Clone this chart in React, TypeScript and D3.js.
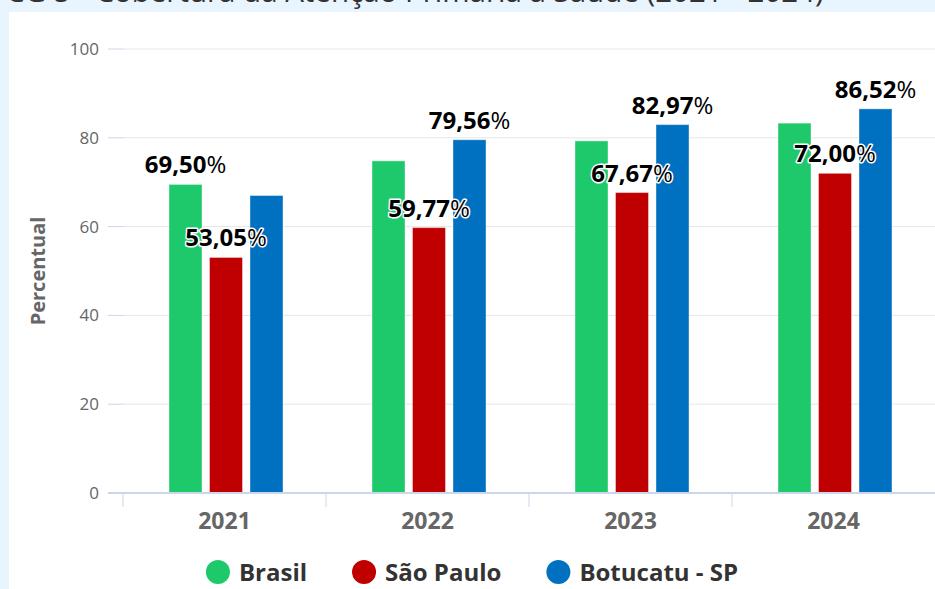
import React, { useEffect, useRef } from "react";
import * as d3 from "d3";

const years = ["2021", "2022", "2023", "2024"];
const seriesNames = ["Brasil", "São Paulo", "Botucatu - SP"];
const seriesColors = ["#1ec96b", "#c00000", "#0070c0"];
const brasil = [69.5, 74.8, 79.3, 83.3];
const saoPaulo = [53.05, 59.77, 67.67, 72.0];
const botucatu = [67.0, 79.56, 82.97, 86.52];
// only these labels survive in the original (the rest were hidden as overlapping)
const brasilLabels = [true, false, false, false];
const saoPauloLabels = [true, true, true, true];
const botucatuLabels = [false, true, true, true];
const yTicks = [0, 20, 40, 60, 80, 100];
const title = "CG 5 - Cobertura da Atenção Primária à Saúde (2021 - 2024)";

const W = 935;
const H = 589;
const FONT = "'Open Sans', 'DejaVu Sans', sans-serif";

const ptBR = d3.formatLocale({
  decimal: ",",
  thousands: ".",
  grouping: [3],
  currency: ["R$", ""],
});
const fmt = ptBR.format(".2f");

const App = () => {
  const ref = useRef<SVGSVGElement | null>(null);

  useEffect(() => {
    if (!ref.current) return;
    const svg = d3.select(ref.current);
    svg.selectAll("*").remove();

    const series = [
      { name: seriesNames[0], color: seriesColors[0], values: brasil, labels: brasilLabels },
      { name: seriesNames[1], color: seriesColors[1], values: saoPaulo, labels: saoPauloLabels },
      { name: seriesNames[2], color: seriesColors[2], values: botucatu, labels: botucatuLabels },
    ];

    const x = d3.scaleBand().domain(years).range([123, 935]).paddingInner(0).paddingOuter(0);
    const xs = d3.scaleBand().domain(seriesNames).range([46, 160]).paddingInner(0.185).paddingOuter(0);
    const y = d3.scaleLinear().domain([0, 100]).range([493, 49]);

    // background + panel (title sits above, mostly scrolled out of view)
    svg.append("rect").attr("width", W).attr("height", H).attr("fill", "#e8f4fe");
    svg.append("text")
      .attr("x", 6).attr("y", 2)
      .attr("font-family", FONT).attr("font-size", 29.5).attr("fill", "#333")
      .text(title);
    svg.append("rect").attr("x", 9).attr("y", 12).attr("width", W - 9).attr("height", H - 12).attr("fill", "#fff");

    // grid + y ticks
    const yg = svg.append("g");
    yTicks.forEach((t) => {
      if (t > 0) {
        yg.append("line")
          .attr("x1", 124).attr("x2", W).attr("y1", y(t)).attr("y2", y(t))
          .attr("stroke", "#e6e6e6").attr("stroke-width", 1);
      }
      yg.append("line")
        .attr("x1", 108).attr("x2", 124).attr("y1", y(t)).attr("y2", y(t))
        .attr("stroke", "#ccd6eb").attr("stroke-width", 1);
      yg.append("text")
        .attr("x", 99).attr("y", y(t) + 6)
        .attr("text-anchor", "end")
        .attr("font-family", FONT).attr("font-size", 17).attr("fill", "#666")
        .text(t);
    });

    svg.append("text")
      .attr("transform", "translate(45,271) rotate(-90)")
      .attr("text-anchor", "middle")
      .attr("font-family", FONT).attr("font-size", 20).attr("font-weight", 700).attr("fill", "#666")
      .text("Percentual");

    // bars
    series.forEach((s) => {
      svg.append("g").selectAll("rect")
        .data(s.values)
        .enter()
        .append("rect")
        .attr("x", (d, i) => (x(years[i]) as number) + (xs(s.name) as number))
        .attr("y", (d) => y(d))
        .attr("width", xs.bandwidth())
        .attr("height", (d) => y(0) - y(d))
        .attr("fill", s.color)
        .attr("stroke", "#fff").attr("stroke-opacity", 0.4).attr("stroke-width", 1);
    });

    // x axis
    svg.append("line")
      .attr("x1", 108).attr("x2", W).attr("y1", y(0)).attr("y2", y(0))
      .attr("stroke", "#ccd6eb").attr("stroke-width", 2);
    years.forEach((yr) => {
      const x0 = x(yr) as number;
      svg.append("line")
        .attr("x1", x0).attr("x2", x0).attr("y1", y(0)).attr("y2", 507)
        .attr("stroke", "#ccd6eb").attr("stroke-width", 1);
      svg.append("text")
        .attr("x", x0 + x.bandwidth() / 2).attr("y", 529)
        .attr("text-anchor", "middle")
        .attr("font-family", FONT).attr("font-size", 23).attr("font-weight", 700).attr("fill", "#666")
        .text(yr);
    });

    // data labels
    series.forEach((s) => {
      s.values.forEach((v, i) => {
        if (!s.labels[i]) return;
        const t = svg.append("text")
          .attr("x", (x(years[i]) as number) + (xs(s.name) as number) + xs.bandwidth() / 2)
          .attr("y", y(v) - 11)
          .attr("text-anchor", "middle")
          .attr("font-family", FONT).attr("font-size", 24).attr("font-weight", 700)
          .attr("fill", "#000").attr("stroke", "#fff").attr("stroke-width", 3)
          .attr("stroke-linejoin", "round").attr("paint-order", "stroke");
        t.append("tspan").text(fmt(v));
        t.append("tspan").attr("font-weight", 400).text("%");
      });
    });

    // legend
    const lg = svg.append("g");
    let cx = 0;
    series.forEach((s, i) => {
      const item = lg.append("g").attr("transform", `translate(${cx},0)`);
      item.append("circle").attr("cx", 12).attr("cy", 0).attr("r", 12).attr("fill", s.color);
      const t = item.append("text")
        .attr("x", 33).attr("y", 8.5)
        .attr("font-family", FONT).attr("font-size", 24).attr("font-weight", 700).attr("fill", "#333")
        .text(s.name);
      const w = (t.node() as SVGTextElement).getComputedTextLength();
      cx += 33 + w + (i < series.length - 1 ? 45 : 0);
    });
    lg.attr("transform", `translate(${472 - cx / 2},572)`);
  }, []);

  return (
    <svg
      ref={ref}
      width={W}
      height={H}
      style={{ position: "absolute", left: 0, top: 0, display: "block" }}
    />
  );
};

export default App;
